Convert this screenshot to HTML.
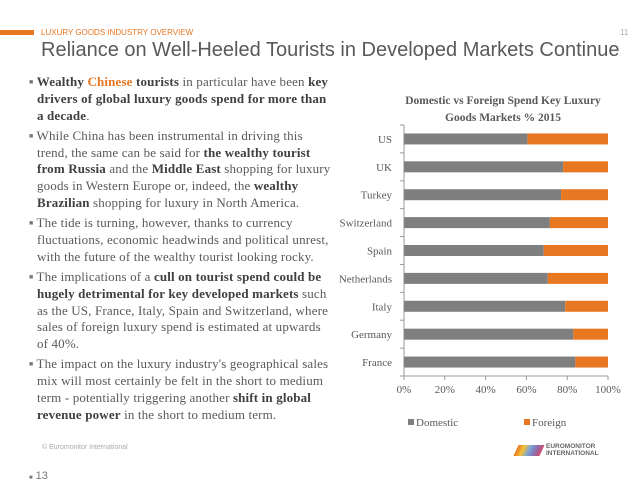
<!DOCTYPE html>
<html><head><meta charset="utf-8"><style>
body{margin:0;width:638px;height:479px;background:#fff;position:relative;overflow:hidden;font-family:"Liberation Sans",sans-serif}
.abs{position:absolute}
.txt{font-family:"Liberation Serif",serif;font-size:13px;line-height:16.8px;color:#595959;white-space:nowrap;letter-spacing:0.15px}
.txt p{margin:0 0 3.4px 0;padding-left:8px;text-indent:-8px}
.txt b{color:#404040}
.bl{font-size:7px;vertical-align:2px;color:#777}
</style></head><body>
<div class="abs" style="left:0;top:30px;width:34px;height:5px;background:#e87722"></div>
<div class="abs" style="left:41px;top:28px;font-size:8px;color:#e87722">LUXURY GOODS INDUSTRY OVERVIEW</div>
<div class="abs" style="left:620px;top:28px;font-size:8px;color:#aaa">11</div>
<div class="abs" style="left:41px;top:39px;font-size:20px;color:#595959;white-space:nowrap">Reliance on Well-Heeled Tourists in Developed Markets Continue</div>
<div class="abs txt" style="left:29px;top:74px;width:310px">
<p><span class="bl">■</span> <b>Wealthy <span style="color:#e87722">Chinese</span> tourists</b> in particular have been <b>key</b><br><b>drivers of global luxury goods spend for more than</b><br><b>a decade</b>.</p>
<p><span class="bl">■</span> While China has been instrumental in driving this<br>trend, the same can be said for <b>the wealthy tourist</b><br><b>from Russia</b> and the <b>Middle East</b> shopping for luxury<br>goods in Western Europe or, indeed, the <b>wealthy</b><br><b>Brazilian</b> shopping for luxury in North America.</p>
<p><span class="bl">■</span> The tide is turning, however, thanks to currency<br>fluctuations, economic headwinds and political unrest,<br>with the future of the wealthy tourist looking rocky.</p>
<p><span class="bl">■</span> The implications of a <b>cull on tourist spend could be</b><br><b>hugely detrimental for key developed markets</b> such<br>as the US, France, Italy, Spain and Switzerland, where<br>sales of foreign luxury spend is estimated at upwards<br>of 40%.</p>
<p><span class="bl">■</span> The impact on the luxury industry's geographical sales<br>mix will most certainly be felt in the short to medium<br>term - potentially triggering another <b>shift in global</b><br><b>revenue power</b> in the short to medium term.</p>
</div>
<div class="abs" style="left:42px;top:444px;font-size:7px;color:#aaa">© Euromonitor International</div>
<div class="abs" style="left:29px;top:470px;font-size:11px;color:#777"><span style="font-size:6px">■</span> 13</div>
<div class="abs" style="left:516px;top:443px;width:86px;height:14px">
<div style="position:absolute;left:0;top:2px;width:26px;height:11px;background:linear-gradient(90deg,#e87722,#f3c13a,#7aa6d8,#8a6fb0,#d04a6a);transform:skewX(-25deg)"></div>
<div style="position:absolute;left:30px;top:0;font-size:6.5px;line-height:7px;font-weight:bold;color:#666">EUROMONITOR<br>INTERNATIONAL</div>
</div>
<svg class="abs" style="left:0;top:0" width="638" height="479">
<text x="503" y="104" text-anchor="middle" font-family="Liberation Serif,serif" font-weight="bold" font-size="11.5" fill="#595959">Domestic vs Foreign Spend Key Luxury</text>
<text x="503" y="121" text-anchor="middle" font-family="Liberation Serif,serif" font-weight="bold" font-size="11.5" fill="#595959">Goods Markets % 2015</text>
<g id="plot"></g>
</svg>
<script>
const categories=["US","UK","Turkey","Switzerland","Spain","Netherlands","Italy","Germany","France"];
const domestic=[60.5,78,77,71.5,68.5,70.5,79,83,84];
const foreign=[39.5,22,23,28.5,31.5,29.5,21,17,16];
const ticks=[0,20,40,60,80,100];
const X0=404,X1=608,TOPY=125,BOTY=376;
const xs=v=>X0+(X1-X0)*v/100;
const step=(BOTY-TOPY)/categories.length;
const yc=i=>TOPY+step*(i+0.5);
const g=document.getElementById('plot');
const NS="http://www.w3.org/2000/svg";
function mk(t,a){const e=document.createElementNS(NS,t);for(const k in a)e.setAttribute(k,a[k]);g.appendChild(e);return e;}
let ax=mk('line',{x1:X0,y1:TOPY,x2:X0,y2:BOTY,stroke:'#999'});


let axx=mk('line',{x1:X0,y1:BOTY,x2:X1,y2:BOTY,stroke:'#999'});


for(let i=0;i<=categories.length;i++){mk('line',{x1:X0-4,x2:X0,y1:TOPY+step*i,y2:TOPY+step*i,stroke:'#999'});}
ticks.forEach(t=>{
 mk('line',{x1:xs(t),x2:xs(t),y1:BOTY,y2:BOTY+4,stroke:'#999'});
 const tx=mk('text',{x:xs(t),y:BOTY+17,'text-anchor':'middle','font-family':'Liberation Serif,serif','font-size':'11',fill:'#595959'});
 tx.textContent=t+'%';
 
 
});
categories.forEach((c,i)=>{
 const y=yc(i);
 const d=mk('rect',{x:xs(0),y:y-5.5,width:xs(domestic[i])-xs(0),height:11,fill:'#7f7f7f'});
 
 
 const f=mk('rect',{x:xs(domestic[i]),y:y-5.5,width:xs(domestic[i]+foreign[i])-xs(domestic[i]),height:11,fill:'#e87722'});
 
 
 const l=mk('text',{x:X0-12,y:y+4,'text-anchor':'end','font-family':'Liberation Serif,serif','font-size':'11',fill:'#595959'});
 l.textContent=c;
 
 
});
const legend=[["Domestic","#7f7f7f",408],["Foreign","#e87722",524]];
legend.forEach(([n,col,x])=>{
 const r=mk('rect',{x:x,y:419,width:6,height:6,fill:col});
 
 
 const t=mk('text',{x:x+8,y:426,'font-family':'Liberation Serif,serif','font-size':'11',fill:'#595959'});
 t.textContent=n;
 
 
});
</script>
</body></html>
